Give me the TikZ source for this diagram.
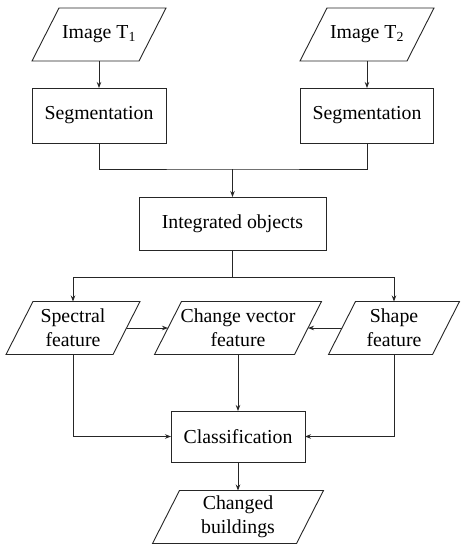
\documentclass[tikz,border=0pt]{standalone}
\usepackage{fontspec}
\setmainfont{Liberation Serif}
\usetikzlibrary{arrows.meta}
\newcommand\drawpara[1]{\draw[shapeline] ([xshift=13.5pt]#1.north west) -- ([xshift=13.5pt]#1.north east) -- ([xshift=-13.5pt]#1.south east) -- ([xshift=-13.5pt]#1.south west) -- cycle;}
\begin{document}
\begin{tikzpicture}[x=1pt,y=-1pt,
  every node/.style={font=\fontsize{19.8}{24}\selectfont, inner sep=0pt, outer sep=0pt, align=center, text=black},
  box/.style={draw=black!85, line width=0.9pt, minimum height=54pt},
  para/.style={minimum height=53pt},
  shapeline/.style={draw=black!85, line width=0.9pt},
  conn/.style={draw=black!85, line width=0.9pt},
  arr/.style={conn, -{Stealth[length=6pt,width=4.5pt]}}]
\useasboundingbox (0,0) rectangle (464,550);
\fill[white] (0,0) rectangle (464,550);

\node[para, minimum width=107pt] (t1) at (99,34.5) {Image T\textsubscript{1}};
\node[para, minimum width=107pt] (t2) at (367,34.5) {Image T\textsubscript{2}};
\node[box, minimum width=134pt, minimum height=55pt] (s1) at (99,115.5) {Segmentation};
\node[box, minimum width=133pt, minimum height=55pt] (s2) at (367,115.5) {Segmentation};
\node[box, minimum width=187pt, minimum height=53pt] (io) at (232.5,223.5) {Integrated objects};
\node[para, minimum width=107pt] (sp) at (73,328) {Spectral\\feature};
\node[para, minimum width=140pt] (cv) at (238,328) {Change vector\\feature};
\node[para, minimum width=104pt] (sh) at (394,328) {Shape\\feature};
\node[box, minimum width=134pt, minimum height=51pt] (cl) at (238,436.5) {Classification};
\node[para, minimum width=144pt] (cb) at (238,517) {Changed\\buildings};

\drawpara{t1}
\drawpara{t2}
\drawpara{sp}
\drawpara{cv}
\drawpara{sh}
\drawpara{cb}

\coordinate (j1) at (232.5,169);
\coordinate (j2) at (232.5,277);

\draw[arr] (t1) -- (s1);
\draw[arr] (t2) -- (s2);
\draw[conn] (s1.south) |- (j1) -| (s2.south);
\draw[arr] (j1) -- (io);
\draw[conn] (io) -- (j2);
\draw[arr] (j2) -| (sp.north);
\draw[arr] (j2) -| (sh.north);
\draw[arr] (sp) -- (cv);
\draw[arr] (sh) -- (cv);
\draw[arr] (sp.south) |- (cl.west);
\draw[arr] (sh.south) |- (cl.east);
\draw[arr] (cv) -- (cl);
\draw[arr] (cl) -- (cb);
\end{tikzpicture}
\end{document}
